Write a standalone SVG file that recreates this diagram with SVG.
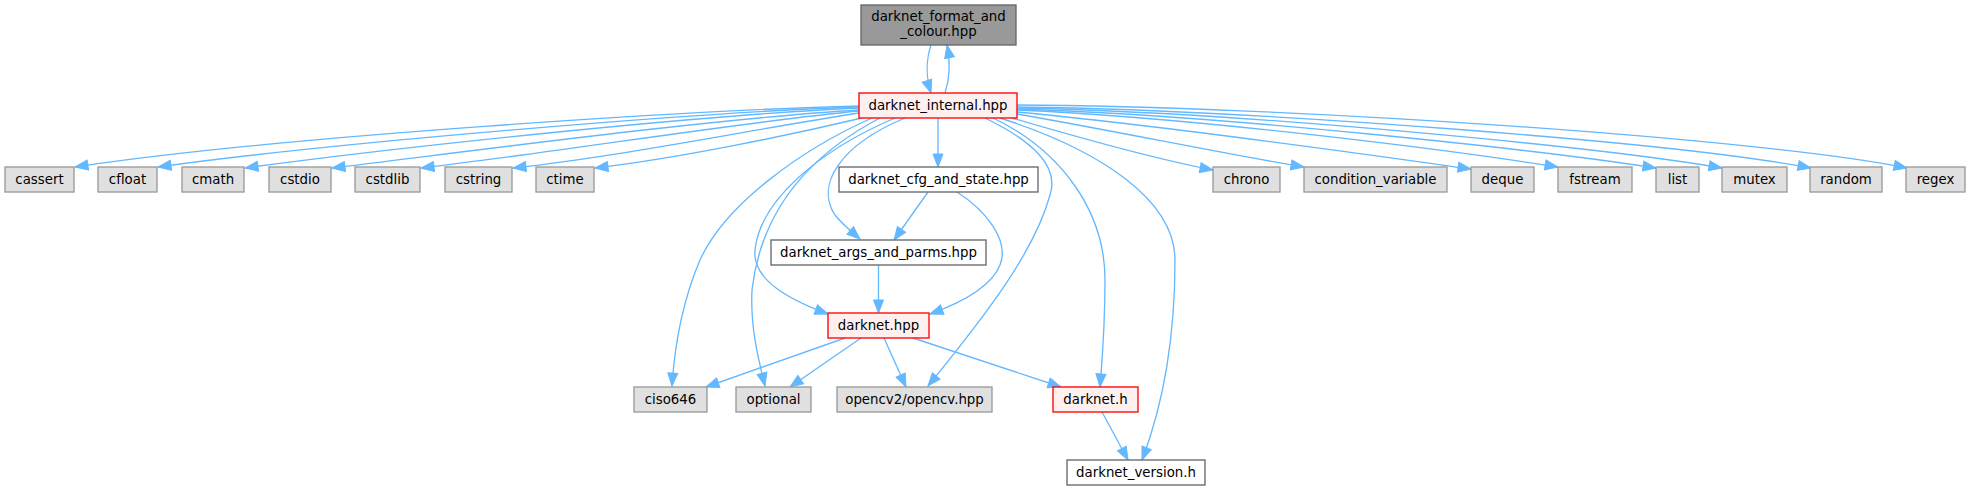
<svg xmlns="http://www.w3.org/2000/svg" width="1971" height="491" viewBox="0 0 1971 491">
<style>
text{font-family:"DejaVu Sans","Liberation Sans",sans-serif;font-size:13.33px;text-anchor:middle;fill:#000}
.g rect{fill:#e0e0e0;stroke:#999999;stroke-width:1.33}
.w rect{fill:#ffffff;stroke:#666666;stroke-width:1.33}
.r rect{fill:#fff0f0;stroke:#ff0000;stroke-width:1.33}
.k rect{fill:#999999;stroke:#666666;stroke-width:1.33}
#edges path{fill:none;stroke:#63b8ff;stroke-width:1.33;marker-end:url(#a)}
</style>
<defs>
<marker id="a" markerUnits="userSpaceOnUse" markerWidth="14" markerHeight="11" refX="13" refY="5" orient="auto" overflow="visible">
<path d="M0,0 L13,5 L0,10 z" fill="#63b8ff" stroke="#63b8ff" stroke-width="1"/>
</marker>
</defs>
<rect width="1971" height="491" fill="#ffffff"/>
<g id="edges">
<path d="M931,45 C926,60 926,78 931,93"/>
<path d="M945,93 C950,78 950,60 947,45"/>
<path d="M859,106 C700,110 280,136 75,167"/>
<path d="M859,107 C700,112 330,143 158,167"/>
<path d="M859,108 C700,115 400,147 245,168"/>
<path d="M859,110 C720,118 480,150 332,168"/>
<path d="M859,111 C740,122 560,152 421,168"/>
<path d="M859,113 C760,128 630,155 513,168"/>
<path d="M862,118 C790,135 680,158 595,168"/>
<path d="M1012,118 C1080,138 1160,160 1213,170"/>
<path d="M1017,114 C1110,130 1230,155 1304,167"/>
<path d="M1017,112 C1160,125 1370,155 1471,169"/>
<path d="M1017,110 C1200,118 1450,150 1558,167"/>
<path d="M1017,109 C1220,115 1540,150 1656,168"/>
<path d="M1017,108 C1240,112 1600,147 1722,168"/>
<path d="M1017,107 C1260,110 1680,143 1811,168"/>
<path d="M1017,105 C1280,106 1760,138 1907,168"/>
<path d="M938,118 L938,167"/>
<path d="M872,118 C800,150 725,205 700,260 C685,295 675,340 672,386"/>
<path d="M880,118 C800,160 760,220 752,290 C750,330 760,365 765,386"/>
<path d="M895,118 C820,150 760,200 755,250 C752,280 790,300 828,314"/>
<path d="M905,118 C840,145 815,185 835,215 C843,225 852,232 860,239"/>
<path d="M985,118 C1030,140 1060,165 1050,195 C1035,250 990,310 928,386"/>
<path d="M993,118 C1060,150 1105,210 1105,280 C1105,330 1102,360 1100,387"/>
<path d="M1000,118 C1100,150 1175,200 1175,260 C1175,330 1165,400 1142,460"/>
<path d="M928,192 L894,240"/>
<path d="M957,192 C985,210 1010,240 1000,265 C990,290 955,305 930,314"/>
<path d="M878.5,265 L878.5,313"/>
<path d="M845,338 L706,387"/>
<path d="M861,338 L790,387"/>
<path d="M884,338 L906,387"/>
<path d="M913,338 L1061,387"/>
<path d="M1102,412 L1128,460"/>
</g>
<g id="n_root" class="k"><rect x="861" y="5" width="155" height="40"/><text x="938.5" y="21">darknet_format_and</text><text x="938.5" y="36">_colour.hpp</text></g>
<g id="n_internal" class="r"><rect x="859" y="93" width="158" height="25"/><text x="938" y="110">darknet_internal.hpp</text></g>
<g id="n_cassert" class="g"><rect x="5" y="167" width="69" height="25"/><text x="39.5" y="184">cassert</text></g>
<g id="n_cfloat" class="g"><rect x="98" y="167" width="59" height="25"/><text x="127.5" y="184">cfloat</text></g>
<g id="n_cmath" class="g"><rect x="182" y="167" width="62" height="25"/><text x="213" y="184">cmath</text></g>
<g id="n_cstdio" class="g"><rect x="269" y="167" width="62" height="25"/><text x="300" y="184">cstdio</text></g>
<g id="n_cstdlib" class="g"><rect x="355" y="167" width="65" height="25"/><text x="387.5" y="184">cstdlib</text></g>
<g id="n_cstring" class="g"><rect x="445" y="167" width="67" height="25"/><text x="478.5" y="184">cstring</text></g>
<g id="n_ctime" class="g"><rect x="536" y="167" width="58" height="25"/><text x="565" y="184">ctime</text></g>
<g id="n_cfg" class="w"><rect x="839" y="167" width="199" height="25"/><text x="938.5" y="184">darknet_cfg_and_state.hpp</text></g>
<g id="n_chrono" class="g"><rect x="1213" y="167" width="67" height="25"/><text x="1246.5" y="184">chrono</text></g>
<g id="n_condvar" class="g"><rect x="1304" y="167" width="143" height="25"/><text x="1375.5" y="184">condition_variable</text></g>
<g id="n_deque" class="g"><rect x="1471" y="167" width="63" height="25"/><text x="1502.5" y="184">deque</text></g>
<g id="n_fstream" class="g"><rect x="1558" y="167" width="74" height="25"/><text x="1595" y="184">fstream</text></g>
<g id="n_list" class="g"><rect x="1656" y="167" width="43" height="25"/><text x="1677.5" y="184">list</text></g>
<g id="n_mutex" class="g"><rect x="1722" y="167" width="65" height="25"/><text x="1754.5" y="184">mutex</text></g>
<g id="n_random" class="g"><rect x="1810" y="167" width="72" height="25"/><text x="1846" y="184">random</text></g>
<g id="n_regex" class="g"><rect x="1906" y="167" width="59" height="25"/><text x="1935.5" y="184">regex</text></g>
<g id="n_args" class="w"><rect x="771" y="240" width="215" height="25"/><text x="878.5" y="257">darknet_args_and_parms.hpp</text></g>
<g id="n_darknet_hpp" class="r"><rect x="828" y="313" width="101" height="25"/><text x="878.5" y="330">darknet.hpp</text></g>
<g id="n_ciso646" class="g"><rect x="634" y="387" width="73" height="25"/><text x="670.5" y="404">ciso646</text></g>
<g id="n_optional" class="g"><rect x="736" y="387" width="75" height="25"/><text x="773.5" y="404">optional</text></g>
<g id="n_opencv" class="g"><rect x="837" y="387" width="155" height="25"/><text x="914.5" y="404">opencv2/opencv.hpp</text></g>
<g id="n_darknet_h" class="r"><rect x="1053" y="387" width="85" height="25"/><text x="1095.5" y="404">darknet.h</text></g>
<g id="n_version" class="w"><rect x="1067" y="460" width="138" height="25"/><text x="1136" y="477">darknet_version.h</text></g>
</svg>
